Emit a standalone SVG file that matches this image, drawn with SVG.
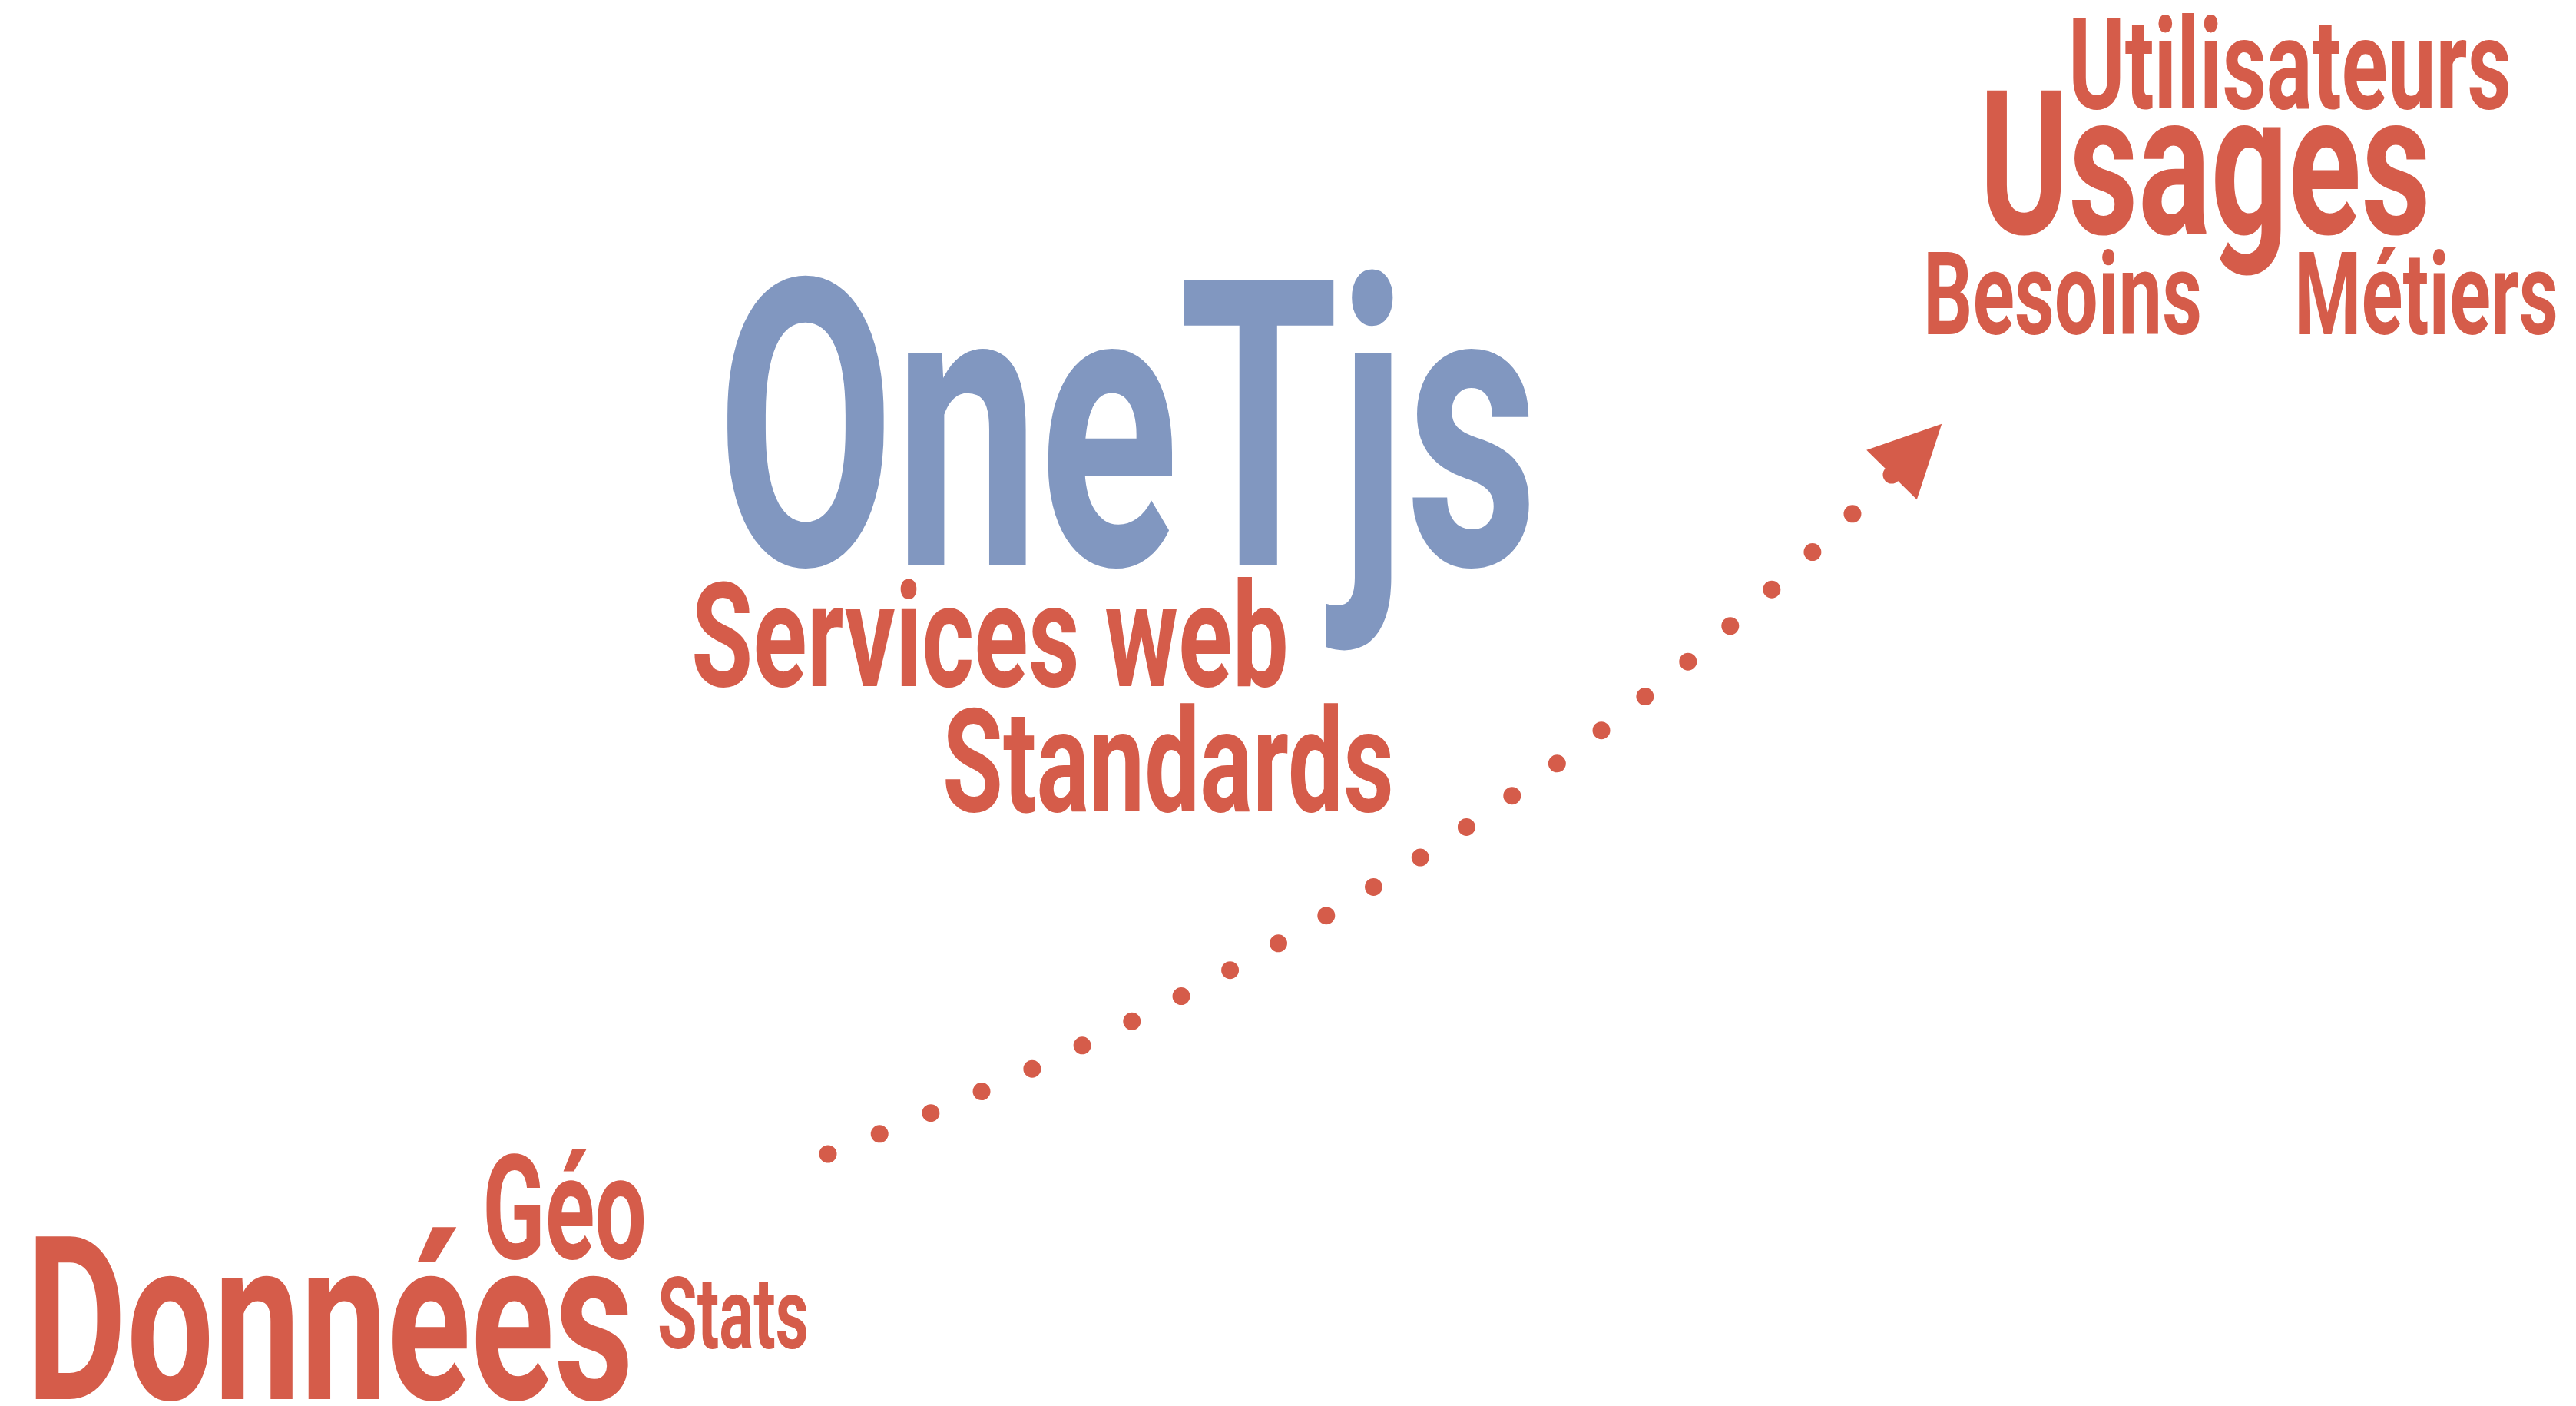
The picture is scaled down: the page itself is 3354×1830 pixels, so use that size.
<svg xmlns="http://www.w3.org/2000/svg" width="3354" height="1830" viewBox="0 0 3354 1830">
<style>
text{font-family:Roboto,"DejaVu Sans",sans-serif;font-weight:700}
.red{fill:#D55C4A}
.blue{fill:#8197C0}
.dots{fill:none;stroke:#D55C4A;stroke-width:23;stroke-linecap:round;stroke-dasharray:0 1}
</style>
<defs>
<marker id="arrow" markerUnits="userSpaceOnUse" markerWidth="100" markerHeight="100" refX="0" refY="0" orient="auto" overflow="visible">
<path d="M0,-46 L93,0 L0,46 z" fill="#D55C4A"/>
</marker>
</defs>
<rect width="3354" height="1830" fill="#ffffff"/>
<g id="connectors">
<path class="dots" pathLength="23" d="M1078,1502 Q1900,1190 2463,618" marker-end="url(#arrow)"/>
</g>
<g id="onetjs">
<text class="blue" x="933" y="735" font-size="522" textLength="1070" lengthAdjust="spacingAndGlyphs">OneTjs</text>
<text class="red" x="900" y="893" font-size="190" textLength="778" lengthAdjust="spacingAndGlyphs">Services web</text>
<text class="red" x="1227" y="1056" font-size="188" textLength="588" lengthAdjust="spacingAndGlyphs">Standards</text>
</g>
<g id="usages">
<text class="red" x="2693" y="141" font-size="166" textLength="577" lengthAdjust="spacingAndGlyphs">Utilisateurs</text>
<text class="red" x="2577" y="304" font-size="262" textLength="588" lengthAdjust="spacingAndGlyphs">Usages</text>
<text class="red" x="2504" y="435" font-size="150" textLength="363" lengthAdjust="spacingAndGlyphs">Besoins</text>
<text class="red" x="2987" y="435" font-size="150" textLength="344" lengthAdjust="spacingAndGlyphs">Métiers</text>
</g>
<g id="donnees">
<text class="red" x="34" y="1821" font-size="298" textLength="791" lengthAdjust="spacingAndGlyphs">Données</text>
<text class="red" x="628" y="1638" font-size="190" textLength="214" lengthAdjust="spacingAndGlyphs">Géo</text>
<text class="red" x="856" y="1755" font-size="129" textLength="197" lengthAdjust="spacingAndGlyphs">Stats</text>
</g>
</svg>
